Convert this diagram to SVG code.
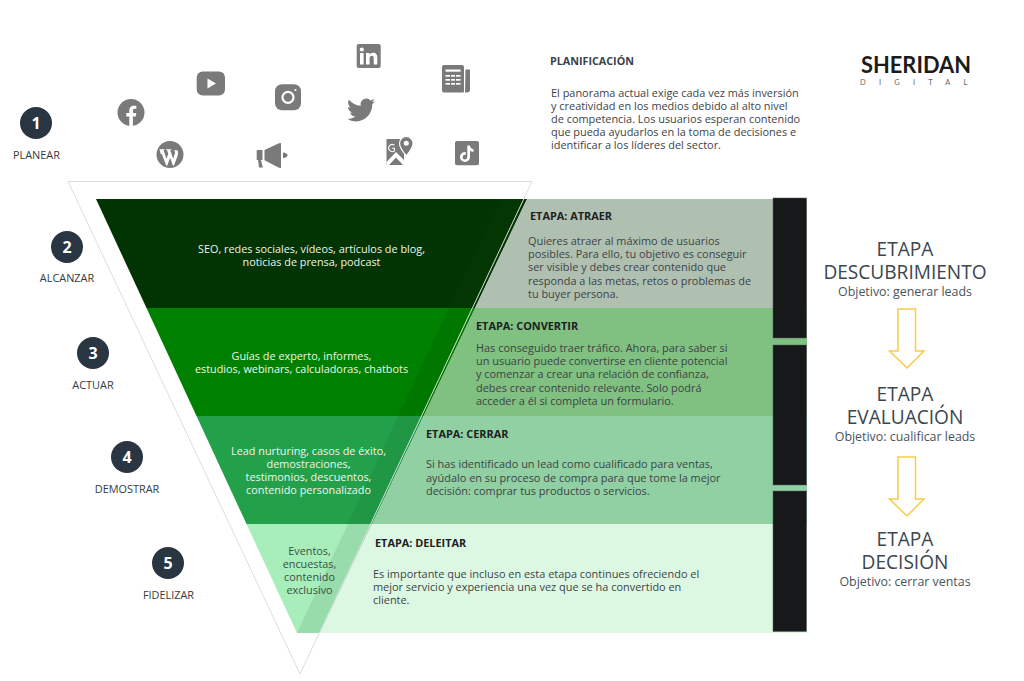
<svg xmlns="http://www.w3.org/2000/svg" width="1024" height="681" viewBox="0 0 1024 681">
<style>
text{font-family:"Open Sans","Noto Sans","Liberation Sans",sans-serif}
.b{font-size:10.93px;fill:#3d4347}
.bh{font-size:10.9px;font-weight:700;fill:#1d2124}
.w{font-size:10.85px;fill:#eef5ee;text-anchor:middle}
.step{font-size:10.9px;fill:#333b42;text-anchor:middle}
.num{font-size:16px;font-weight:700;fill:#fff;text-anchor:middle}
.big{font-size:19.1px;fill:#3b4650;text-anchor:middle}
.obj{font-size:12.4px;fill:#4a535b;text-anchor:middle}
.ic{fill:#7a7a7a}
.iw{fill:#fff}
.bar{fill:#16181a;stroke:#555;stroke-width:.5}
.arr{fill:#fff;stroke:#fbcb47;stroke-width:1.5}
</style>
<rect width="1024" height="681" fill="#fff"/>
<g id="funnel">
<polygon points="96,199 527,199 475,308 146.500,308" fill="#023302"/>
<polygon points="146.500,308 475,308 423.500,416 196.500,416" fill="#008000"/>
<polygon points="196.500,416 423.500,416 372,524 246.500,524" fill="#23a04a"/>
<polygon points="246.500,524 372,524 320,633 297,633" fill="#a7eebb"/>
<polygon points="500,199 527,199 475,308 449,308" fill="#033a03" opacity=".5"/>
<polygon points="449,308 475,308 423.500,416 398,416" fill="#007800"/>
<polygon points="398,416 423.500,416 372,524 348,524" fill="#1f9745"/>
<polygon points="348,524 372,524 320,633 297,633" fill="#97dcaa"/>
</g>
<g id="panel-atraer">
<polygon points="527,199 807,199 807,308 475,308" fill="#b0c0b0"/>
<text class="bh" x="530" y="220">ETAPA: ATRAER</text>
<text class="b" x="528" y="245">Quieres atraer al máximo de usuarios</text>
<text class="b" x="528" y="258">posibles. Para ello, tu objetivo es conseguir</text>
<text class="b" x="528" y="271">ser visible y debes crear contenido que</text>
<text class="b" x="528" y="285">responda a las metas, retos o problemas de</text>
<text class="b" x="528" y="298">tu buyer persona.</text>
</g>
<g id="panel-convertir">
<polygon points="475,308 807,308 807,416 423.500,416" fill="#80c080"/>
<text class="bh" x="476" y="330">ETAPA: CONVERTIR</text>
<text class="b" x="476" y="352">Has conseguido traer tráfico. Ahora, para saber si</text>
<text class="b" x="476" y="365">un usuario puede convertirse en cliente potencial</text>
<text class="b" x="476" y="378">y comenzar a crear una relación de confianza,</text>
<text class="b" x="476" y="392">debes crear contenido relevante. Solo podrá</text>
<text class="b" x="476" y="405">acceder a él si completa un formulario.</text>
</g>
<g id="panel-cerrar">
<polygon points="423.500,416 807,416 807,524 372,524" fill="#90d0a2"/>
<text class="bh" x="426" y="438">ETAPA: CERRAR</text>
<text class="b" x="426" y="468">Si has identificado un lead como cualificado para ventas,</text>
<text class="b" x="426" y="482">ayúdalo en su proceso de compra para que tome la mejor</text>
<text class="b" x="426" y="495">decisión: comprar tus productos o servicios.</text>
</g>
<g id="panel-deleitar">
<polygon points="372,524 807,524 807,633 320,633" fill="#dcf8e2"/>
<text class="bh" x="375" y="547">ETAPA: DELEITAR</text>
<text class="b" x="373" y="578">Es importante que incluso en esta etapa continues ofreciendo el</text>
<text class="b" x="373" y="591">mejor servicio y experiencia una vez que se ha convertido en</text>
<text class="b" x="373" y="604">cliente.</text>
</g>
<g id="outline">
<polygon points="68,181.500 532,181.500 300,674" fill="none" stroke="#dcdedc" stroke-width="1"/>
</g>
<g id="funnel-labels">
<text class="w" x="311.500" y="253">SEO, redes sociales, vídeos, artículos de blog,</text>
<text class="w" x="311.500" y="266">noticias de prensa, podcast</text>
<text class="w" x="301.500" y="360">Guías de experto, informes,</text>
<text class="w" x="301.500" y="373">estudios, webinars, calculadoras, chatbots</text>
<text class="w" x="308.500" y="455">Lead nurturing, casos de éxito,</text>
<text class="w" x="308.500" y="468">demostraciones,</text>
<text class="w" x="308.500" y="481">testimonios, descuentos,</text>
<text class="w" x="308.500" y="494">contenido personalizado</text>
<text class="w" x="309.500" y="555" style="fill:#3d4f45">Eventos,</text>
<text class="w" x="309.500" y="568" style="fill:#3d4f45">encuestas,</text>
<text class="w" x="309.500" y="581" style="fill:#3d4f45">contenido</text>
<text class="w" x="309.500" y="594" style="fill:#3d4f45">exclusivo</text>
</g>
<g id="bars">
<rect class="bar" x="773" y="198" width="33.500" height="140"/>
<rect class="bar" x="773" y="345" width="33.500" height="140"/>
<rect class="bar" x="773" y="491" width="33.500" height="140.500"/>
</g>
<g id="step-1"><circle cx="36" cy="123" r="16" fill="#2a3542"/><text class="num" x="36" y="129">1</text><text class="step" x="36.500" y="158.500">PLANEAR</text></g>
<g id="step-2"><circle cx="67" cy="247" r="16" fill="#2a3542"/><text class="num" x="67" y="253">2</text><text class="step" x="67" y="281.500">ALCANZAR</text></g>
<g id="step-3"><circle cx="93" cy="353" r="16" fill="#2a3542"/><text class="num" x="93" y="359">3</text><text class="step" x="93" y="388.500">ACTUAR</text></g>
<g id="step-4"><circle cx="127" cy="457" r="16" fill="#2a3542"/><text class="num" x="127" y="463">4</text><text class="step" x="127" y="492.500">DEMOSTRAR</text></g>
<g id="step-5"><circle cx="168" cy="563" r="16" fill="#2a3542"/><text class="num" x="168" y="569">5</text><text class="step" x="168.500" y="598.500">FIDELIZAR</text></g>
<g id="icons">
<g id="icon-facebook"><circle class="ic" cx="131" cy="112.500" r="13.500"/><path class="iw" d="M129.300 126v-9.500h-3v-3.500h3v-2.700c0-3 1.800-4.600 4.500-4.600 1.200 0 2.200.1 2.500.1v3h-1.700c-1.400 0-1.700.7-1.700 1.700v2.500h3.400l-.5 3.500h-2.900v9.500z"/></g>
<g id="icon-youtube"><rect class="ic" x="196.700" y="71.500" width="28.300" height="24" rx="6"/><polygon class="iw" points="207.500,78.500 216,83.500 207.500,88.500"/></g>
<g id="icon-instagram"><rect class="ic" x="275" y="84.300" width="26" height="26" rx="7"/><circle cx="288" cy="97.300" r="5.500" fill="none" stroke="#fff" stroke-width="2.200"/><circle class="iw" cx="295.500" cy="90" r="1.100"/></g>
<g id="icon-linkedin"><rect class="ic" x="356.700" y="44" width="24" height="24" rx="2"/><rect class="iw" x="360" y="53" width="3.600" height="11.500"/><circle class="iw" cx="361.800" cy="49.500" r="2.100"/><path class="iw" d="M366 53h3.400v1.600c.7-1.100 2-1.900 3.600-1.900 3.200 0 4.300 2 4.300 5.100v6.700h-3.600v-6c0-1.500-.4-2.800-1.900-2.800-1.600 0-2.200 1.200-2.200 2.800v6H366z"/></g>
<g id="icon-twitter" transform="translate(347 96) scale(1.170)"><path class="ic" d="M23.953 4.570a10 10 0 01-2.825.775 4.958 4.958 0 002.163-2.723c-.951.555-2.005.959-3.127 1.184a4.920 4.920 0 00-8.384 4.482C7.690 8.095 4.067 6.130 1.640 3.162a4.822 4.822 0 00-.666 2.475c0 1.710.870 3.213 2.188 4.096a4.904 4.904 0 01-2.228-.616v.060a4.923 4.923 0 003.946 4.827 4.996 4.996 0 01-2.212.085 4.936 4.936 0 004.604 3.417 9.867 9.867 0 01-6.102 2.105c-.390 0-.779-.023-1.170-.067a13.995 13.995 0 007.557 2.209c9.053 0 13.998-7.496 13.998-13.985 0-.210 0-.420-.015-.630A9.935 9.935 0 0024 4.590z"/></g>
<g id="icon-news"><path class="ic" d="M444 65h18a2 2 0 012 2v24a2 2 0 01-.500 1.500H444a2 2 0 01-2-2V67a2 2 0 012-2z"/><path class="ic" d="M465.500 69.500h4.500v20a3 3 0 01-3 3h-2z"/><rect class="iw" x="445.500" y="69.500" width="15" height="2.200"/><g class="iw"><rect x="445.500" y="75" width="4.500" height="1.700"/><rect x="451" y="75" width="4" height="1.700"/><rect x="456" y="75" width="4.500" height="1.700"/><rect x="445.500" y="79" width="4.500" height="1.700"/><rect x="451" y="79" width="4" height="1.700"/><rect x="456" y="79" width="4.500" height="1.700"/><rect x="445.500" y="83" width="4.500" height="1.700"/><rect x="451" y="83" width="4" height="1.700"/><rect x="456" y="83" width="4.500" height="1.700"/></g></g>
<g id="icon-wordpress"><circle class="ic" cx="170" cy="154.500" r="13.500"/><path class="iw" d="M159.500 149.200h5.200l-.1.800-1.100.1 3 8.700 1.800-5-1.300-3.700-1-.1v-.8h5.300v.8l-1.100.1 3 8.700 1-3.200c.5-1.500.8-2.400.8-3.200 0-.9-.5-1.500-.9-2.100h3.400c.4 1.100.5 2.100.5 3 0 1.500-.4 2.800-1 4.300l-3 7.800h-1.100l-2.800-7.600-2.800 7.600h-1.100l-4.400-11.400-1.100-.1z"/></g>
<g id="icon-megaphone"><path class="ic" d="M256.700 150h5.800v10h-1.600l2 7.500h-3.900l-.9-7.500h-1.400z"/><path class="ic" d="M264.500 150l14.500-6.800 2-.2v25l-2-.200-14.500-7.500z"/><path class="ic" d="M283 152.500c2.800.3 4.500 1.300 4.500 2.800s-1.700 2.500-4.500 2.800z"/></g>
<g id="icon-maps"><path class="ic" d="M386.500 139h17.500v26h-17.500z"/><path class="iw" d="M386.500 162l9.500-10 7.500 7.500 2 5.500h-2.500l-7-7.500-7 7.500h-2.500z"/><path d="M394.500 145.400a3.500 3.500 0 100 5.400v-2.600h-2.600" fill="none" stroke="#fff" stroke-width="1.100"/><path d="M406.300 136.500a6.800 6.800 0 00-6.800 6.800c0 4.400 6.800 12.700 6.800 12.700s6.800-8.300 6.800-12.700a6.800 6.800 0 00-6.800-6.800z" fill="#7a7a7a" stroke="#fff" stroke-width="1.200"/><circle class="iw" cx="406.300" cy="143.300" r="2.500"/></g>
<g id="icon-tiktok"><rect class="ic" x="455" y="141" width="24" height="24.300" rx="2"/><path class="iw" d="M467.300 145.500h2.700c.2 2.100 1.500 3.500 3.500 3.700v2.700c-1.300 0-2.500-.4-3.500-1.100v6.200a5 5 0 11-5-5l.7.100v2.800a2.300 2.300 0 101.600 2.100z"/></g>
</g>
<g id="planificacion">
<text x="550" y="65" style="font-size:10.750px;font-weight:700;fill:#3a4147">PLANIFICACIÓN</text>
<text class="b" x="551" y="97">El panorama actual exige cada vez más inversión</text>
<text class="b" x="551" y="110">y creatividad en los medios debido al alto nivel</text>
<text class="b" x="551" y="123">de competencia. Los usuarios esperan contenido</text>
<text class="b" x="551" y="136">que pueda ayudarlos en la toma de decisiones e</text>
<text class="b" x="551" y="149">identificar a los líderes del sector.</text>
</g>
<g id="logo">
<text x="861" y="73" textLength="110" lengthAdjust="spacingAndGlyphs" style="font-family:Lato,'Open Sans',sans-serif;font-size:23px;font-weight:700;fill:#1c1c1c">SHERIDAN</text>
<text x="860" y="85" style="font-family:Lato,'Open Sans',sans-serif;font-size:7.500px;letter-spacing:13.200px;fill:#666">DIGITAL</text>
</g>
<g id="stage-descubrimiento"><text class="big" x="905" y="256">ETAPA</text><text class="big" x="905" y="279">DESCUBRIMIENTO</text><text class="obj" x="905" y="296">Objetivo: generar leads</text></g>
<g id="stage-evaluacion"><text class="big" x="905" y="401">ETAPA</text><text class="big" x="905" y="424">EVALUACIÓN</text><text class="obj" x="905" y="441">Objetivo: cualificar leads</text></g>
<g id="stage-decision"><text class="big" x="905" y="546">ETAPA</text><text class="big" x="905" y="569">DECISIÓN</text><text class="obj" x="905" y="586">Objetivo: cerrar ventas</text></g>
<g id="connectors">
<polygon class="arr" points="898,309 915.500,309 915.500,351 924,351 907,368 889.500,351 898,351"/>
<polygon class="arr" points="898,457 915.500,457 915.500,499 924,499 907,516 889.500,499 898,499"/>
</g>
</svg>
